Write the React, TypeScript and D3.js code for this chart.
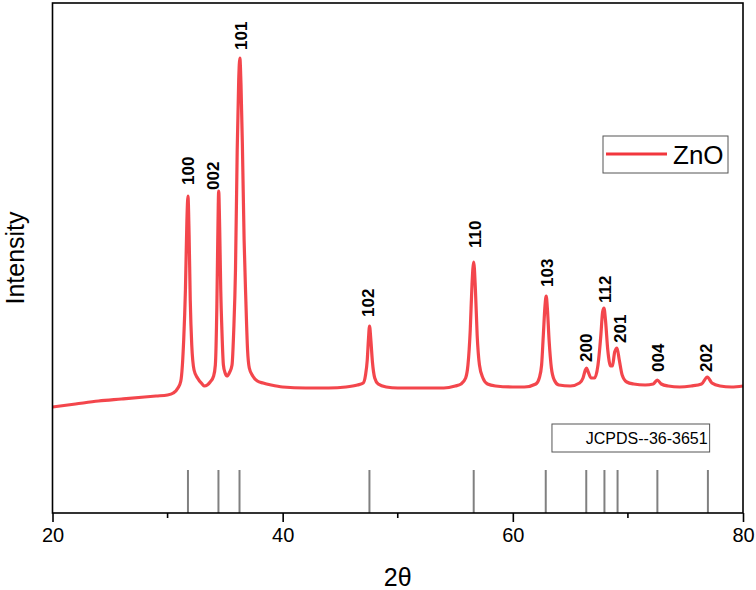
import React, { useEffect, useRef } from 'react';
import * as d3 from 'd3';

// XRD scan: [2theta, intensity (a.u.)]
const xrdScan: [number, number][] = [
    [20, 212], [22, 218], [24, 224], [26, 228], [28, 232], [29, 234], [30, 236], [30.5, 240],
    [30.9, 250], [31.15, 264], [31.4, 346], [31.55, 446], [31.68, 586], [31.77, 634], [31.87, 556],
    [31.97, 426], [32.1, 336], [32.3, 286], [32.6, 270], [33.0, 258], [33.2, 254], [33.45, 256],
    [33.7, 262], [34.0, 274], [34.15, 296], [34.28, 412], [34.36, 546], [34.44, 644], [34.53, 566],
    [34.62, 446], [34.72, 366], [34.85, 296], [35.0, 280], [35.15, 274], [35.4, 282], [35.6, 296],
    [35.75, 366], [35.9, 486], [36.05, 726], [36.18, 866], [36.28, 910], [36.38, 856], [36.5, 736],
    [36.65, 546], [36.8, 426], [36.95, 326], [37.1, 290], [37.4, 274], [37.8, 264], [38.3, 260],
    [39, 256], [40, 252], [42, 250], [44, 250], [45.5, 252], [46.5, 256], [47.0, 260], [47.2, 276],
    [47.35, 306], [47.45, 346], [47.55, 374], [47.65, 350], [47.8, 302], [48.0, 270], [48.3, 258],
    [49, 252], [50, 250], [52, 250], [54, 250], [55, 254], [55.5, 258], [55.9, 270], [56.1, 296],
    [56.3, 366], [56.45, 456], [56.6, 502], [56.75, 446], [56.9, 356], [57.1, 296], [57.4, 270],
    [57.8, 258], [58.5, 254], [60, 252], [61, 252], [62, 258], [62.3, 270], [62.5, 296],
    [62.65, 356], [62.8, 416], [62.9, 434], [63.0, 410], [63.15, 346], [63.35, 290], [63.6, 266],
    [64.0, 256], [65, 254], [65.8, 260], [66.1, 270], [66.3, 286], [66.4, 290], [66.55, 282],
    [66.8, 270], [67.1, 270], [67.4, 296], [67.65, 356], [67.8, 402], [67.92, 410], [68.05, 386],
    [68.25, 326], [68.5, 294], [68.65, 294], [68.85, 322], [69.05, 330], [69.25, 306], [69.5, 276],
    [69.9, 262], [70.5, 258], [71.5, 256], [72.2, 258], [72.55, 266], [72.9, 258], [73.5, 254],
    [74.5, 252], [75.5, 254], [76.4, 258], [76.9, 272], [77.3, 260], [78, 254], [79, 252], [80, 254]
];

// peak labels (hkl), where the label starts
const peakLabels = ["100", "002", "101", "102", "110", "103", "200", "112", "201", "004", "202"];
const labelTheta = [31.8, 34.0, 36.4, 47.43, 56.74, 63.0, 66.39, 68.04, 69.35, 72.65, 76.83];
const labelIntensity = [656, 646, 926, 392, 530, 452, 302, 420, 340, 282, 282];

// JCPDS 36-1451 reference lines
const refTheta = [31.77, 34.42, 36.25, 47.54, 56.60, 62.86, 66.38, 67.96, 69.10, 72.56, 76.95];
const refHeight = 86;

const xTicks = [20, 40, 60, 80];
const xMinorTicks = [30, 50, 70];

const font = "'Liberation Sans', Arial, sans-serif";

function XrdChart() {
    const svgRef = useRef<SVGSVGElement>(null);

    const width = 756;
    const height = 590;
    const marginTop = 3;
    const marginRight = 13;
    const marginBottom = 77;
    const marginLeft = 52.5;

    useEffect(() => {
        const x = d3.scaleLinear()
            .domain([20, 80])
            .range([marginLeft, width - marginRight]);

        const y = d3.scaleLinear()
            .domain([0, 1020])
            .range([height - marginBottom, marginTop]);

        const svg = d3.select(svgRef.current)
            .attr("width", width)
            .attr("height", height)
            .attr("viewBox", [0, 0, width, height].join(" "));

        svg.selectAll("*").remove();

        // reference sticks
        svg.append("g")
            .selectAll("line")
            .data(refTheta)
            .join("line")
            .attr("x1", d => x(d))
            .attr("x2", d => x(d))
            .attr("y1", y(0))
            .attr("y2", y(refHeight))
            .attr("stroke", "#808080")
            .attr("stroke-width", 2);

        // scan
        const line = d3.line<[number, number]>()
            .x(d => x(d[0]))
            .y(d => y(d[1]))
            .curve(d3.curveMonotoneX);

        svg.append("path")
            .attr("fill", "none")
            .attr("stroke", "#f2363d")
            .attr("stroke-opacity", 0.92)
            .attr("stroke-width", 3.2)
            .attr("stroke-linejoin", "round")
            .attr("d", line(xrdScan));

        // frame
        svg.append("rect")
            .attr("x", marginLeft)
            .attr("y", marginTop)
            .attr("width", width - marginRight - marginLeft)
            .attr("height", height - marginBottom - marginTop)
            .attr("fill", "none")
            .attr("stroke", "black")
            .attr("stroke-width", 1.6);

        // bottom axis
        const xAxis = svg.append("g")
            .attr("transform", `translate(0,${height - marginBottom})`);

        xAxis.call(d3.axisBottom(x).tickValues(xTicks).tickSize(9).tickPadding(6).tickFormat(d3.format("d")))
            .call(g => g.select(".domain").remove())
            .call(g => g.selectAll(".tick line").attr("stroke-width", 1.6))
            .call(g => g.selectAll(".tick text")
                .attr("font-family", font)
                .attr("font-size", 20)
                .attr("fill", "black"));

        xAxis.append("g")
            .selectAll("line")
            .data(xMinorTicks)
            .join("line")
            .attr("x1", d => x(d))
            .attr("x2", d => x(d))
            .attr("y1", 0)
            .attr("y2", 5)
            .attr("stroke", "black")
            .attr("stroke-width", 1.6);

        svg.append("text")
            .attr("x", (marginLeft + width - marginRight) / 2)
            .attr("y", 586)
            .attr("text-anchor", "middle")
            .attr("font-family", font)
            .attr("font-size", 25)
            .text("2θ");

        svg.append("text")
            .attr("transform", `translate(24,${(marginTop + height - marginBottom) / 2}) rotate(-90)`)
            .attr("text-anchor", "middle")
            .attr("font-family", font)
            .attr("font-size", 25)
            .text("Intensity");

        // hkl labels
        svg.append("g")
            .selectAll("text")
            .data(peakLabels)
            .join("text")
            .attr("transform", (d, i) => `translate(${x(labelTheta[i])},${y(labelIntensity[i])}) rotate(-90)`)
            .attr("text-anchor", "start")
            .attr("dominant-baseline", "central")
            .attr("font-family", font)
            .attr("font-weight", "bold")
            .attr("font-size", 17)
            .text(d => d);

        // JCPDS box
        const card = svg.append("g");
        card.append("rect")
            .attr("x", x(63.4))
            .attr("y", 424)
            .attr("width", x(77.1) - x(63.4))
            .attr("height", 28)
            .attr("fill", "white")
            .attr("stroke", "#555")
            .attr("stroke-width", 1);
        card.append("text")
            .attr("x", x(77.1) - 2)
            .attr("y", 444)
            .attr("text-anchor", "end")
            .attr("font-family", font)
            .attr("font-size", 16)
            .text("JCPDS--36-3651");

        // legend
        const legend = svg.append("g").attr("transform", "translate(603,136)");
        legend.append("rect")
            .attr("width", 125)
            .attr("height", 37)
            .attr("fill", "white")
            .attr("stroke", "#555")
            .attr("stroke-width", 1);
        legend.append("line")
            .attr("x1", 3)
            .attr("x2", 64)
            .attr("y1", 18)
            .attr("y2", 18)
            .attr("stroke", "#f2363d")
            .attr("stroke-width", 3);
        legend.append("text")
            .attr("x", 70)
            .attr("y", 28)
            .attr("font-family", font)
            .attr("font-size", 26)
            .text("ZnO");
    }, []);

    return (
        <svg ref={svgRef} style={{ position: "absolute", left: 0, top: 0, background: "white" }}></svg>
    );
}

export default function App() {
    return <XrdChart />;
}
